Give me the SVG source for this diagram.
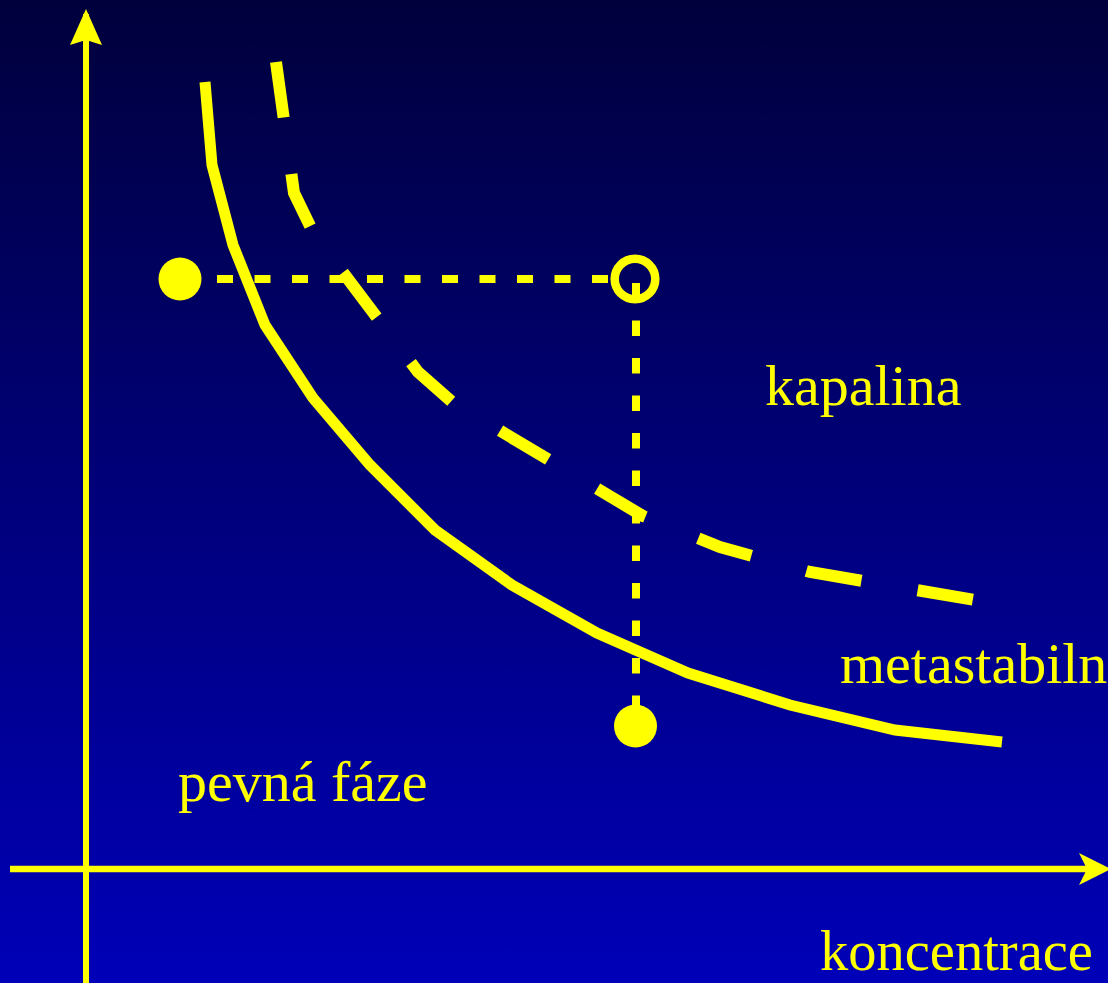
<svg xmlns="http://www.w3.org/2000/svg" width="1108" height="983" viewBox="0 0 1108 983">
<defs>
<linearGradient id="bg" x1="0" y1="0" x2="0" y2="1">
<stop offset="0" stop-color="#00003C"/>
<stop offset="1" stop-color="#0000B8"/>
</linearGradient>
</defs>
<style>
.ln{fill:none;stroke:#FFFF00;stroke-linejoin:miter;}
.lbl{font-family:"Liberation Serif","Times New Roman",serif;font-size:58px;fill:#FFFF00;}
.fill{fill:#FFFF00;}
</style>
<rect x="0" y="0" width="1108" height="983" fill="url(#bg)"/>
<g id="axes">
<line class="ln" x1="86" y1="14" x2="86" y2="983" stroke-width="6"/>
<polygon class="fill" points="86,9 102,45 86,40 70,45"/>
<line class="ln" x1="10" y1="869" x2="1090" y2="869" stroke-width="6.5"/>
<polygon class="fill" points="1111,869 1079,853 1087,869 1079,885"/>
</g>
<g id="connectors">
<polyline id="solid-curve" class="ln" stroke-width="11" points="205,82 212,165 233,245 265,325 313,398 370,465 435,530 512,585 597,633 688,673 790,705 895,730 1002,742"/>
<polyline id="dashed-curve" class="ln" stroke-width="12" stroke-dasharray="56 57" points="276,62 294,193 314,234 418,372 452,402 643,516 720,547 810,572 975,600"/>
<line id="h-dash" class="ln" x1="217" y1="279" x2="612" y2="279" stroke-width="8" stroke-dasharray="16 21.5"/>
<line id="v-dash" class="ln" x1="636" y1="283" x2="636" y2="711" stroke-width="8" stroke-dasharray="15.5 22"/>
</g>
<g id="point-start"><circle class="fill" cx="180" cy="279" r="21.5"/></g>
<g id="point-open"><circle class="ln" cx="635" cy="279" r="20.3" stroke-width="8.5"/></g>
<g id="point-end"><circle class="fill" cx="635.5" cy="726" r="21.5"/></g>
<g id="label-kapalina"><text class="lbl" x="765" y="405">kapalina</text></g>
<g id="label-metastabilni"><text class="lbl" x="840" y="683">metastabiln</text></g>
<g id="label-pevna"><text class="lbl" x="178" y="801">pevná fáze</text></g>
<g id="label-koncentrace"><text class="lbl" x="820" y="970" style="font-size:56.5px">koncentrace</text></g>
</svg>
